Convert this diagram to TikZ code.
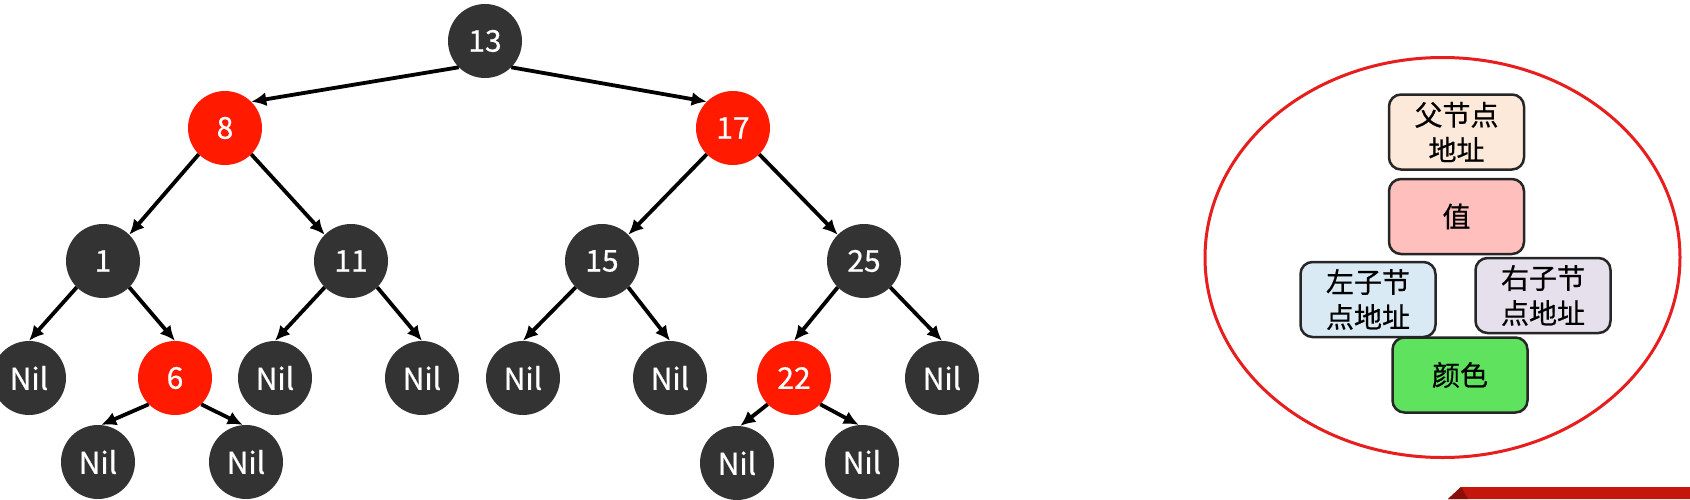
\documentclass[tikz,border=0pt]{standalone}
\usepackage{fontspec}
\setmainfont{Noto Sans CJK SC}
\newfontfamily\labelfont[FakeBold=0.6]{Noto Sans CJK SC}
\usetikzlibrary{arrows.meta,shapes.geometric}
\definecolor{nodegray}{HTML}{333333}
\definecolor{nodered}{HTML}{FF1A00}
\definecolor{ringred}{HTML}{E61E1E}
\definecolor{cpeach}{HTML}{FDE9DA}
\definecolor{cpink}{HTML}{FFBFBC}
\definecolor{cblue}{HTML}{DAEAF4}
\definecolor{clav}{HTML}{E5E0EC}
\definecolor{cgreen}{HTML}{5FE35F}
\definecolor{bannerred}{HTML}{C4160C}
\definecolor{bannerdark}{HTML}{8A0F08}
\begin{document}
\begin{tikzpicture}[x=1pt,y=-1pt,
  blk/.style={circle,fill=nodegray,text=white,minimum size=74pt,inner sep=0pt,font=\labelfont\fontsize{30}{32}\selectfont},
  rdn/.style={blk,fill=nodered},
  edge/.style={line width=3.8pt,-{Latex[length=15pt,width=14pt]}},
  fieldbox/.style={draw=black!85,line width=2.5pt,rounded corners=12pt,minimum width=135pt,minimum height=75pt,align=center,inner sep=0pt,font=\labelfont\fontsize{28}{35}\selectfont}]
\useasboundingbox (0,0) rectangle (1690,499);
\fill[white] (0,0) rectangle (1690,499);
% tree nodes
\node[blk] (n13) at (485,41) {13};
\node[rdn] (n8) at (225,128) {8};
\node[rdn] (n17) at (733,128) {17};
\node[blk] (n1) at (103,261) {1};
\node[blk] (n11) at (351,261) {11};
\node[blk] (n15) at (602,261) {15};
\node[blk] (n25) at (864,261) {25};
\node[blk] (a1) at (29,378) {Nil};
\node[rdn] (n6) at (175,378) {6};
\node[blk] (a2) at (275,378) {Nil};
\node[blk] (a3) at (422,378) {Nil};
\node[blk] (a4) at (523,378) {Nil};
\node[blk] (a5) at (670,378) {Nil};
\node[rdn] (n22) at (794,378) {22};
\node[blk] (a6) at (942,378) {Nil};
\node[blk] (b1) at (98,462) {Nil};
\node[blk] (b2) at (246,462) {Nil};
\node[blk] (b3) at (737,463) {Nil};
\node[blk] (b4) at (862,462) {Nil};
% edges
\draw[edge] (n13.-135) -- (n8.45);
\draw[edge] (n13.-45) -- (n17.135);
\draw[edge] (n8.-135) -- (n1.45);
\draw[edge] (n8.-45) -- (n11.135);
\draw[edge] (n17.-135) -- (n15.45);
\draw[edge] (n17.-45) -- (n25.135);
\draw[edge] (n1.-135) -- (a1.north);
\draw[edge] (n1.-45) -- (n6.north);
\draw[edge] (n11.-135) -- (a2.north);
\draw[edge] (n11.-45) -- (a3.north);
\draw[edge] (n15.-135) -- (a4.north);
\draw[edge] (n15.-45) -- (a5.north);
\draw[edge] (n25.-135) -- (n22.north);
\draw[edge] (n25.-45) -- (a6.north);
\draw[edge] (n6.-135) -- (b1.85);
\draw[edge] (n6.-45) -- (b2.95);
\draw[edge] (n22.-135) -- (b3.85);
\draw[edge] (n22.-45) -- (b4.95);
% node structure
\node[ellipse,draw=ringred,line width=3pt,minimum width=475pt,minimum height=400pt,inner sep=0pt] (cell) at (1442.5,257.5) {};
\node[fieldbox,fill=cpeach] (parent) at (1456.5,132) {父节点\\地址};
\node[fieldbox,fill=cpink] (val) at (1456.5,216.5) {值};
\node[fieldbox,fill=cblue] (left) at (1368,299.5) {左子节\\点地址};
\node[fieldbox,fill=clav] (right) at (1543,295.5) {右子节\\点地址};
\node[fieldbox,fill=cgreen] (color) at (1460,375) {颜色};
% banner
\fill[bannerred] (1448,499) -- (1461,487) -- (1690,487) -- (1690,499) -- cycle;
\fill[bannerdark] (1448,499) -- (1461,487) -- (1468,499) -- cycle;
\end{tikzpicture}
\end{document}
